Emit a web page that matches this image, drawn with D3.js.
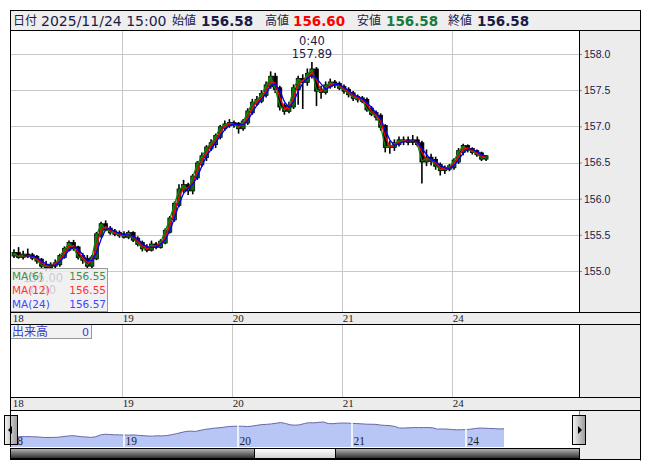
<!DOCTYPE html>
<html><head><meta charset="utf-8">
<script src="https://cdn.jsdelivr.net/npm/d3@7"></script>
<style>body{margin:0;background:#fff}svg{display:block}</style>
</head><body><svg id="c" width="653" height="470"></svg>
<script>
// ---------- data (hourly, hour 0 = 18th 7:00) ----------
const hourPrices = [
155.22,155.24,155.20,155.22,155.21,155.19,155.15,155.08,155.06,155.08,
155.10,155.20,155.30,155.38,155.32,155.20,155.16,155.08,155.18,155.50,
155.64,155.58,155.54,155.52,155.50,155.48,155.52,155.44,155.38,155.32,
155.30,155.36,155.34,155.40,155.55,155.72,155.92,156.12,156.18,156.12,
156.30,156.48,156.58,156.70,156.76,156.86,156.98,157.02,157.04,157.03,
156.98,157.06,157.20,157.32,157.36,157.44,157.56,157.68,157.52,157.28,
157.22,157.28,157.52,157.65,157.62,157.72,157.78,157.50,157.48,157.56,
157.60,157.58,157.54,157.50,157.45,157.40,157.38,157.36,157.24,157.18,
157.14,157.00,156.72,156.72,156.76,156.80,156.80,156.79,156.80,156.76,
156.52,156.56,156.53,156.46,156.40,156.42,156.44,156.52,156.65,156.72,
156.68,156.65,156.62,156.56,156.58];
const highs = [
155.30,155.33,155.28,155.31,155.25,155.22,155.18,155.14,155.12,155.16,
155.24,155.34,155.42,155.43,155.35,155.25,155.22,155.22,155.54,155.68,
155.70,155.62,155.58,155.56,155.55,155.56,155.55,155.48,155.42,155.37,
155.42,155.40,155.44,155.59,155.76,155.96,156.20,156.26,156.22,156.34,
156.52,156.64,156.74,156.82,156.90,157.02,157.08,157.10,157.08,157.06,
157.10,157.25,157.38,157.42,157.50,157.62,157.76,157.74,157.56,157.32,
157.34,157.58,157.70,157.72,157.80,157.89,157.82,157.56,157.62,157.66,
157.64,157.62,157.58,157.54,157.49,157.44,157.42,157.40,157.28,157.22,
157.18,157.03,156.80,156.82,156.86,156.86,156.86,156.88,156.86,156.80,
156.68,156.62,156.58,156.50,156.46,156.48,156.56,156.70,156.76,156.75,
156.71,156.68,156.65,156.60];
const lows = [
155.18,155.17,155.16,155.18,155.15,155.10,155.03,155.00,155.01,155.03,
155.06,155.17,155.27,155.28,155.16,155.10,155.04,155.03,155.15,155.46,
155.55,155.50,155.48,155.46,155.45,155.44,155.40,155.34,155.27,155.26,
155.27,155.30,155.31,155.37,155.52,155.68,155.88,156.08,156.05,156.06,
156.26,156.44,156.52,156.66,156.70,156.82,156.94,156.98,156.98,156.90,
156.94,157.02,157.16,157.28,157.32,157.40,157.52,157.46,157.22,157.16,
157.18,157.24,157.30,157.24,157.56,157.66,157.28,157.38,157.44,157.52,
157.53,157.50,157.45,157.40,157.35,157.33,157.32,157.20,157.14,157.08,
156.94,156.64,156.62,156.66,156.72,156.74,156.74,156.74,156.72,156.21,
156.45,156.46,156.40,156.32,156.34,156.38,156.40,156.48,156.60,156.64,
156.61,156.58,156.52,156.52];
const dayLabels = ["18","19","20","21","24"];
const dayStartHours = [0,24,48,72,96];
const priceTicks = [155.0,155.5,156.0,156.5,157.0,157.5,158.0];
const maLabels = ["MA(6)","MA(12)","MA(24)"];
const maValues = ["156.55","156.55","156.57"];
const maWindows = [1,2,3];
const maColors = ["#0a8a0a","#ff0000","#0000ff"];
const maTextColors = ["#4a8a4a","#ff3333","#4444ff"];
const headerLabels = ["日付","始値","高値","安値","終値"];
const headerValues = ["2025/11/24 15:00","156.58","156.60","156.58","156.58"];
const headerColors = ["#1a1a4a","#1a1a4a","#ff0000","#1a7a3a","#1a1a4a"];
const highTime = "0:40", lowTime = "0:00";
const volumeLabel = "出来高", volumeValue = "0";

// ---------- layout ----------
const svg = d3.select("#c");
const L = 10, R = 640, PR = 579, T = 10;
const mainTop = 30, mainBot = 312, strip1B = 324, volBot = 397, strip2B = 410, navBot = 460;
const grid = "#c8c8c8", ink = "#1a1a4a";

svg.append("rect").attr("width",653).attr("height",470).attr("fill","#fff");
svg.append("rect").attr("x",L).attr("y",T).attr("width",R-L).attr("height",mainTop-T).attr("fill","#eeeeee");
svg.append("rect").attr("x",PR).attr("y",mainTop).attr("width",R-PR).attr("height",navBot-mainTop).attr("fill","#ececec");
[[mainBot,strip1B],[volBot,strip2B]].forEach(([a,b])=>{
  svg.append("rect").attr("x",L).attr("y",a).attr("width",R-L).attr("height",b-a).attr("fill","#ececec");
});

const x = d3.scaleLinear().domain([0,120]).range([11.7,561.7]);
const y = d3.scaleLinear().domain([154.433,158.332]).range([mainBot,mainTop]);

svg.append("g").selectAll("line").data(priceTicks).join("line")
  .attr("x1",L).attr("x2",PR).attr("y1",d=>Math.round(y(d))+0.5).attr("y2",d=>Math.round(y(d))+0.5)
  .attr("stroke",grid);
[[mainTop,mainBot],[strip1B,volBot]].forEach(([a,b])=>{
  svg.append("g").selectAll("line").data(dayStartHours.slice(1)).join("line")
    .attr("x1",d=>Math.round(x(d))+0.5).attr("x2",d=>Math.round(x(d))+0.5)
    .attr("y1",a).attr("y2",b).attr("stroke",grid);
});

svg.append("clipPath").attr("id","mc").append("rect").attr("x",L).attr("y",mainTop).attr("width",PR-L).attr("height",mainBot-mainTop);
const plot = svg.append("g").attr("clip-path","url(#mc)");

const candles = highs.map((h,i)=>({i, o:hourPrices[i], c:hourPrices[i+1], h, l:lows[i]}));
plot.selectAll("line.w").data(candles).join("line")
  .attr("x1",d=>x(d.i+0.5)).attr("x2",d=>x(d.i+0.5))
  .attr("y1",d=>y(d.h)).attr("y2",d=>y(d.l)).attr("stroke","#000").attr("stroke-width",1.6);
plot.selectAll("rect.b").data(candles).join("rect")
  .attr("x",d=>x(d.i+0.5)-2).attr("width",4)
  .attr("y",d=>y(Math.max(d.o,d.c))-1).attr("height",d=>Math.max(2,Math.abs(y(d.o)-y(d.c))+2))
  .attr("fill",d=>d.c>=d.o?"#0a6a0a":"#000").attr("stroke","#000").attr("stroke-width",0.7);

const closes = candles.map(d=>d.c);
maWindows.forEach((w,k)=>{
  const pts = [];
  closes.forEach((c,i)=>{ if(i>=w-1){ pts.push([i, d3.mean(closes.slice(i-w+1,i+1))]); } });
  plot.append("path").datum(pts)
    .attr("d",d3.line().x(d=>x(d[0]+0.5)).y(d=>y(d[1])))
    .attr("fill","none").attr("stroke",maColors[k]).attr("stroke-width",1.3);
});

const hiC = candles.reduce((a,b)=>b.h>a.h?b:a), loC = candles.reduce((a,b)=>b.l<a.l?b:a);
const ann = svg.append("g").attr("font-family","DejaVu Sans, Verdana, sans-serif").attr("font-size",11.5).attr("fill",ink).attr("text-anchor","middle");
ann.append("text").attr("x",x(hiC.i+0.5)).attr("y",y(hiC.h)-17).text(highTime);
ann.append("text").attr("x",x(hiC.i+0.5)).attr("y",y(hiC.h)-4).text(d3.format(".2f")(hiC.h));
ann.append("text").attr("x",x(loC.i+0.5)-3).attr("y",y(loC.l)+11).text(d3.format(".2f")(loC.l));
ann.append("text").attr("x",x(loC.i+0.5)-3).attr("y",y(loC.l)+23).text(lowTime);

const ax = svg.append("g").attr("transform",`translate(${PR},0)`)
  .call(d3.axisRight(y).tickValues(priceTicks).tickFormat(d3.format(".1f")).tickSize(3).tickPadding(2));
ax.select(".domain").remove();
ax.selectAll(".tick line").attr("stroke","#888");
ax.selectAll(".tick text").attr("font-family","Liberation Sans, Arial, sans-serif").attr("font-size",10.5).attr("fill",ink);

const lg = svg.append("g");
lg.append("rect").attr("x",L+0.5).attr("y",268.5).attr("width",97).attr("height",43).attr("fill","#eeeeee").attr("fill-opacity",0.82).attr("stroke","#999");
maLabels.forEach((t,k)=>{
  lg.append("text").attr("x",12).attr("y",279.5+k*14).attr("font-family","DejaVu Sans, sans-serif").attr("font-size",10.5).attr("fill",maTextColors[k]).text(t);
  lg.append("text").attr("x",106).attr("y",279.5+k*14).attr("text-anchor","end").attr("font-family","DejaVu Sans, sans-serif").attr("font-size",10.5).attr("fill",maTextColors[k]).text(maValues[k]);
});

[[mainBot,321.5],[volBot,406.5]].forEach(([a,b])=>{
  svg.append("g").selectAll("text").data(dayLabels).join("text")
    .attr("x",(d,i)=>x(dayStartHours[i])+1).attr("y",b)
    .attr("font-family","Liberation Serif, serif").attr("font-size",11).attr("fill","#222").text(d=>d);
});

svg.append("rect").attr("x",L+0.5).attr("y",324.5).attr("width",81).attr("height",14).attr("fill","#f2f2f2").attr("stroke","#999");
svg.append("text").attr("x",12).attr("y",336).attr("font-family","Noto Sans CJK JP, sans-serif").attr("font-size",12).attr("fill","#3a3acc").text(volumeLabel);
svg.append("text").attr("x",89).attr("y",336).attr("text-anchor","end").attr("font-family","DejaVu Sans, sans-serif").attr("font-size",11).attr("fill","#3a3acc").text(volumeValue);

const xn = d3.scaleLinear().domain([0,120]).range([10,580]);
const yn = d3.scaleLinear().domain([153.4,158.3]).range([447,419]);
const navPts = hourPrices.map((p,i)=>[i,p]);
svg.append("path").datum(navPts).attr("d",d3.area().x(d=>xn(d[0])).y0(447).y1(d=>yn(d[1])))
  .attr("fill","#b8c6f6");
svg.append("path").datum(navPts).attr("d",d3.line().x(d=>xn(d[0])).y(d=>yn(d[1])))
  .attr("fill","none").attr("stroke","#6868aa").attr("stroke-width",1);
svg.append("g").selectAll("line").data(dayStartHours.slice(1)).join("line")
  .attr("x1",d=>xn(d)).attr("x2",d=>xn(d)).attr("y1",418).attr("y2",447).attr("stroke","#fff").attr("stroke-width",1.5);
svg.append("g").selectAll("text").data(dayLabels).join("text")
  .attr("x",(d,i)=>xn(dayStartHours[i])+1.5).attr("y",445)
  .attr("font-family","Liberation Serif, serif").attr("font-size",11.5).attr("fill","#222").text(d=>d);

const defs = svg.append("defs");
const gd = defs.append("linearGradient").attr("id","gdark").attr("x1",0).attr("y1",0).attr("x2",0).attr("y2",1);
gd.append("stop").attr("offset","0").attr("stop-color","#b8b8b8");
gd.append("stop").attr("offset","0.5").attr("stop-color","#707070");
gd.append("stop").attr("offset","1").attr("stop-color","#2a2a2a");
const gl = defs.append("linearGradient").attr("id","glight").attr("x1",0).attr("y1",0).attr("x2",0).attr("y2",1);
gl.append("stop").attr("offset","0").attr("stop-color","#ffffff");
gl.append("stop").attr("offset","1").attr("stop-color","#d0d0d0");
const gb = defs.append("linearGradient").attr("id","gbtn").attr("x1",0).attr("y1",0).attr("x2",1).attr("y2",0);
gb.append("stop").attr("offset","0").attr("stop-color","#f4f4f4");
gb.append("stop").attr("offset","1").attr("stop-color","#9a9a9a");
svg.append("rect").attr("x",L+0.5).attr("y",448.5).attr("width",PR-L).attr("height",10).attr("fill","url(#gdark)").attr("stroke","#000");
svg.append("rect").attr("x",254.5).attr("y",448.5).attr("width",81).attr("height",10).attr("fill","url(#glight)").attr("stroke","#000");
[L+0.5, PR+0.5].forEach(v=>svg.append("line").attr("x1",v).attr("x2",v).attr("y1",410).attr("y2",416).attr("stroke","#3aa4d8"));
[[4,"L"],[572,"R"]].forEach(([bx,dir])=>{
  svg.append("rect").attr("x",bx+0.5).attr("y",415.5).attr("width",13).attr("height",29).attr("fill","url(#gbtn)").attr("stroke","#000");
  const cx = bx+7, cy = 430;
  const pts = dir==="L" ? [[cx-3,cy],[cx+1,cy-4],[cx+1,cy+4]] : [[cx+3,cy],[cx-1,cy-4],[cx-1,cy+4]];
  svg.append("path").attr("d",d3.line()(pts)+"Z").attr("fill","#000");
});

const bl = (x1,y1,x2,y2)=>svg.append("line").attr("x1",x1).attr("y1",y1).attr("x2",x2).attr("y2",y2).attr("stroke","#000");
bl(L+0.5,T,L+0.5,447); bl(R+0.5,T,R+0.5,navBot+0.5); bl(L,T+0.5,R+0.5,T+0.5); bl(L,mainTop+0.5,R,mainTop+0.5);
bl(L,mainBot+0.5,R,mainBot+0.5); bl(L,strip1B+0.5,R,strip1B+0.5);
bl(L,volBot+0.5,R,volBot+0.5); bl(L,strip2B+0.5,R,strip2B+0.5); bl(L,navBot-0.5,R+0.5,navBot-0.5);
bl(PR+0.5,mainTop,PR+0.5,mainBot); bl(PR+0.5,strip1B,PR+0.5,volBot);

const hx = [[13,41],[172,201],[265,293],[357,386],[448,477]];
const hg = svg.append("g");
headerLabels.forEach((t,k)=>{
  hg.append("text").attr("x",hx[k][0]).attr("y",25).attr("font-family","Noto Sans CJK JP, sans-serif").attr("font-size",12).attr("fill",ink).text(t);
  hg.append("text").attr("x",hx[k][1]).attr("y",25.5).attr("font-family","DejaVu Sans, Verdana, sans-serif")
    .attr("font-size",k===0?14:13.5).attr("font-weight",k===0?"normal":"bold").attr("fill",headerColors[k]).text(headerValues[k]);
});
</script></body></html>
